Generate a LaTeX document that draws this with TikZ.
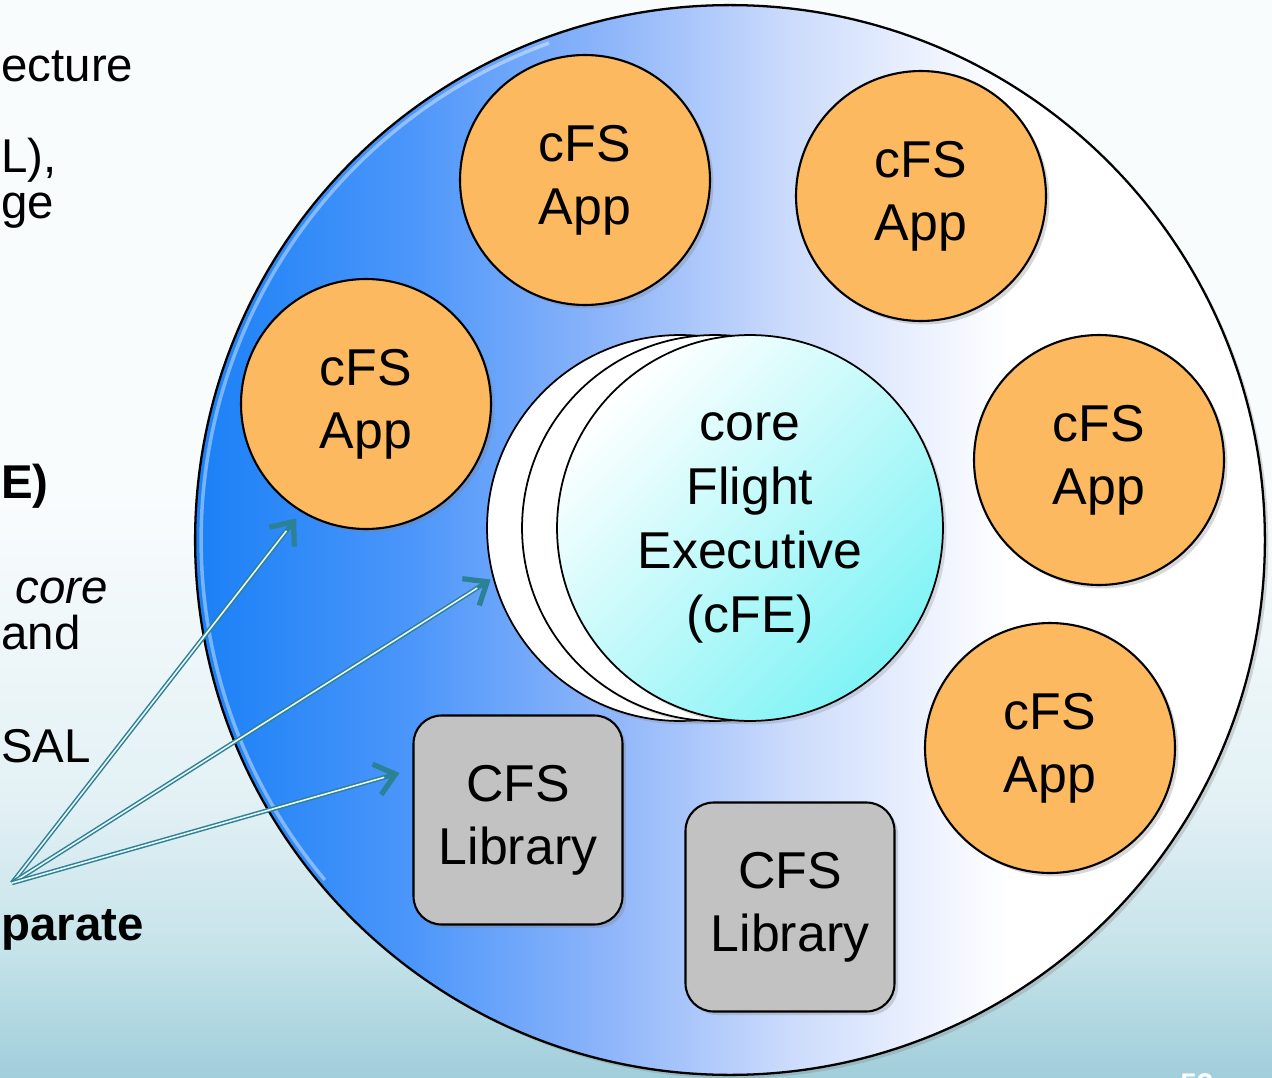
\documentclass[tikz,border=0pt]{standalone}
\usepackage{fontspec}
\setmainfont{Liberation Sans}
\usetikzlibrary{arrows.meta,shadows}

\definecolor{appfill}{HTML}{FCB960}
\definecolor{libfill}{HTML}{C2C2C2}
\definecolor{cfecyan}{HTML}{80F3F5}
\definecolor{linkteal}{HTML}{2B8296}
\definecolor{diskA}{HTML}{1A80F6}
\definecolor{diskB}{HTML}{4B96FA}
\definecolor{diskC}{HTML}{8CB4FA}
\definecolor{diskD}{HTML}{CDDCFC}
\definecolor{bgA}{HTML}{A0CEDA}
\definecolor{bgB}{HTML}{C6E3EA}
\definecolor{bgC}{HTML}{E3F1F5}
\definecolor{bgD}{HTML}{F9FCFD}

\pgfdeclarehorizontalshading{diskshade}{100bp}{color(0bp)=(diskA); color(25bp)=(diskA);
  color(35bp)=(diskB); color(44bp)=(diskC); color(53bp)=(diskD); color(63bp)=(white); color(100bp)=(white)}
\pgfdeclareverticalshading{backshade}{100bp}{color(0bp)=(bgA); color(25bp)=(bgA);
  color(31bp)=(bgB); color(38bp)=(bgC); color(52bp)=(bgD); color(100bp)=(bgD)}

\tikzset{
  app/.style={circle, draw, line width=1.2pt, fill=appfill, minimum size=5cm, inner sep=0pt,
    align=center, font=\fontsize{29.5}{36}\selectfont,
    drop shadow={shadow xshift=2pt, shadow yshift=-2pt, opacity=0.3}},
  lib/.style={rectangle, rounded corners=0.56cm, draw, line width=1.2pt, fill=libfill,
    minimum size=4.18cm, inner sep=0pt, align=center, font=\fontsize{29.5}{36}\selectfont,
    drop shadow={shadow xshift=2pt, shadow yshift=-2pt, opacity=0.3}},
  cfe/.style={circle, draw, line width=1pt, fill=white, minimum size=7.72cm, inner sep=0pt,
    align=center, font=\fontsize{29.5}{36.5}\selectfont,
    drop shadow={shadow xshift=2pt, shadow yshift=-2pt, opacity=0.25}},
  link/.style={draw=linkteal, line width=2.6pt, shorten >=#1,
    -{Straight Barb[length=11pt, width=18pt, line width=3pt]},
    postaction={draw=white!92!linkteal, line width=0.9pt, -, shorten >=#1+9pt}},
  link/.default=0pt,
  side/.style={anchor=base west, inner sep=0pt, font=\fontsize{27}{32}\selectfont}
}

\begin{document}
\begin{tikzpicture}[x=0.02cm,y=-0.02cm]
  \useasboundingbox (0,0) rectangle (1272,1078);
  \clip (0,0) rectangle (1272,1078);
  \shade[shading=backshade] (0,0) rectangle (1272,1078);

  \node[side] (t1) at (1,82) {ecture};
  \node[side] (t2) at (1,173) {L),};
  \node[side] (t3) at (1,218) {ge};
  \node[side, font=\fontsize{27}{32}\selectfont\bfseries] (t4) at (1,498) {E)};
  \node[side, font=\fontsize{27}{32}\selectfont\itshape] (t5) at (15,603) {core};
  \node[side] (t6) at (1,649) {and};
  \node[side] (t7) at (1,762) {SAL};
  \node[side, font=\fontsize{27}{32}\selectfont\bfseries] (t8) at (1,940) {parate};

  \node[circle, draw, line width=1.3pt, minimum size=21.4cm, shading=diskshade,
    drop shadow={shadow xshift=2pt, shadow yshift=-2pt, opacity=0.3}] (disk) at (730,540) {};
  \draw[white, opacity=0.4, line width=2pt] ([shift={(110:10.58cm)}]disk.center)
    arc[start angle=110, end angle=220, radius=10.58cm];

  \foreach \n/\x/\y in {app1/585/180, app2/921/196, app3/366/404, app4/1099/460, app5/1050/748}
    \node[app] (\n) at (\x,\y) {cFS\\App};

  \foreach \n/\x in {cfe3/680, cfe2/715}
    \node[cfe] (\n) at (\x,528) {};
  \node[cfe, shading=axis, top color=white, middle color=white!88!cfecyan, bottom color=cfecyan,
    shading angle=45] (cfe) at (750,528) {core\\Flight\\Executive\\(cFE)};

  \node[lib] (lib1) at (518,820) {CFS\\Library};
  \node[lib] (lib2) at (790,907) {CFS\\Library};

  \coordinate (src) at (12,883);
  \draw[link=0.16cm] (src) -- (app3.239);
  \draw[link=0.05cm] (src) -- (cfe3.195.5);
  \draw[link] (src) -- ([xshift=-0.26cm, yshift=0.94cm]lib1.west);

  \node[anchor=base west, inner sep=0pt, text=white, font=\fontsize{17}{20}\selectfont\bfseries]
    (page) at (1180,1094) {53};
\end{tikzpicture}
\end{document}
